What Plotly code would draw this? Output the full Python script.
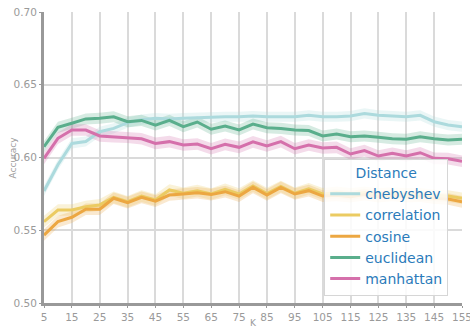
import plotly.graph_objects as go

# Number of neighbours
k_values = list(range(5, 160, 5))

# Mean accuracy per distance metric
chebyshev = [0.577, 0.595, 0.6097, 0.611, 0.6177, 0.620, 0.624, 0.626, 0.627, 0.6265,
             0.627, 0.6275, 0.6276, 0.628, 0.628, 0.6285, 0.628, 0.628, 0.628, 0.629,
             0.628, 0.628, 0.6285, 0.6303, 0.629, 0.6285, 0.628, 0.629, 0.6246, 0.6223, 0.6212]
correlation = [0.5559, 0.5639, 0.5639, 0.5662, 0.5674, 0.5726, 0.5696, 0.5735, 0.5708, 0.5777,
               0.5754, 0.5772, 0.5749, 0.5781, 0.5749, 0.5804, 0.5752, 0.5801, 0.5754, 0.5785,
               0.575, 0.576, 0.575, 0.576, 0.575, 0.5755, 0.575, 0.575, 0.574, 0.5735, 0.572]
cosine = [0.5467, 0.5559, 0.5589, 0.5644, 0.5644, 0.572, 0.569, 0.5726, 0.570, 0.5742,
          0.5749, 0.5758, 0.5745, 0.5765, 0.5735, 0.5795, 0.5742, 0.5795, 0.5749, 0.5772,
          0.5735, 0.574, 0.573, 0.5745, 0.573, 0.574, 0.573, 0.5735, 0.572, 0.5715, 0.5695]
euclidean = [0.6074, 0.6207, 0.6235, 0.6265, 0.627, 0.628, 0.6246, 0.6255, 0.6223, 0.6255,
             0.6212, 0.6244, 0.6194, 0.6216, 0.6189, 0.623, 0.6205, 0.620, 0.6189, 0.6185,
             0.6148, 0.6161, 0.6143, 0.6148, 0.6139, 0.6129, 0.6125, 0.6143, 0.6129, 0.612, 0.6125]
manhattan = [0.5994, 0.6132, 0.6189, 0.6189, 0.6148, 0.6143, 0.6139, 0.6129, 0.6097, 0.6109,
             0.6086, 0.6093, 0.606, 0.609, 0.607, 0.6107, 0.6079, 0.6109, 0.606, 0.6086,
             0.6065, 0.607, 0.6024, 0.6047, 0.601, 0.6029, 0.601, 0.6033, 0.5994, 0.5992, 0.5974]

# Half-width of the shaded confidence band for each metric
band_half_width = {
    "chebyshev": 0.0035,
    "correlation": 0.0040,
    "cosine": 0.0040,
    "euclidean": 0.0038,
    "manhattan": 0.0040,
}

series = [
    ("chebyshev", chebyshev, "#acdadd"),
    ("correlation", correlation, "#ebcb62"),
    ("cosine", cosine, "#eca742"),
    ("euclidean", euclidean, "#5aae8c"),
    ("manhattan", manhattan, "#d570ab"),
]


def rgba(hex_color, alpha):
    h = hex_color.lstrip("#")
    r, g, b = int(h[0:2], 16), int(h[2:4], 16), int(h[4:6], 16)
    return f"rgba({r},{g},{b},{alpha})"


fig = go.Figure()

for name, values, color in series:
    hw = band_half_width[name]
    upper = [v + hw for v in values]
    lower = [v - hw for v in values]
    fig.add_trace(go.Scatter(
        x=k_values + k_values[::-1],
        y=upper + lower[::-1],
        fill="toself",
        fillcolor=rgba(color, 0.25),
        line=dict(width=0),
        hoverinfo="skip",
        showlegend=False,
    ))

for name, values, color in series:
    fig.add_trace(go.Scatter(
        x=k_values,
        y=values,
        mode="lines",
        name=name,
        line=dict(color=color, width=3),
    ))

axis_font = dict(family="DejaVu Sans", size=10.5, color="#9a9a9a")
title_font = dict(family="DejaVu Sans", size=9, color="#9a9a9a")

common_axis = dict(
    showgrid=True,
    gridcolor="#dadada",
    gridwidth=1.5,
    showline=True,
    linecolor="#999999",
    linewidth=3,
    ticks="outside",
    ticklen=2,
    tickcolor="#999999",
    tickfont=axis_font,
    zeroline=False,
    automargin=False,
    ticklabeloverflow="allow",
)

fig.update_layout(
    width=470,
    height=328,
    margin=dict(l=44, r=8, t=12, b=25),
    paper_bgcolor="white",
    plot_bgcolor="white",
    font=dict(family="DejaVu Sans"),
    xaxis=dict(range=[5, 155], tickvals=list(range(5, 160, 10)), **common_axis),
    yaxis=dict(range=[0.5, 0.7], tickvals=[0.50, 0.55, 0.60, 0.65, 0.70],
               tickformat=".2f", **common_axis),
    annotations=[
        dict(text="K", xref="paper", yref="paper", x=0.5, y=0, yshift=-20,
             showarrow=False, font=title_font, yanchor="middle"),
        dict(text="Accuracy", xref="paper", yref="paper", x=0, y=0.5, xshift=-32,
             showarrow=False, font=title_font, textangle=-90, xanchor="center"),
    ],
    legend=dict(
        title=dict(text="Distance", side="top center",
                   font=dict(family="DejaVu Sans", size=14, color="#2b7bba")),
        font=dict(family="DejaVu Sans", size=14, color="#2b7bba"),
        x=0.967,
        y=0.024,
        xanchor="right",
        yanchor="bottom",
        bgcolor="rgba(255,255,255,0.85)",
        bordercolor="#d6d6d6",
        borderwidth=1,
        tracegroupgap=0,
        itemwidth=30,
    ),
)

fig.write_html("out.html")
